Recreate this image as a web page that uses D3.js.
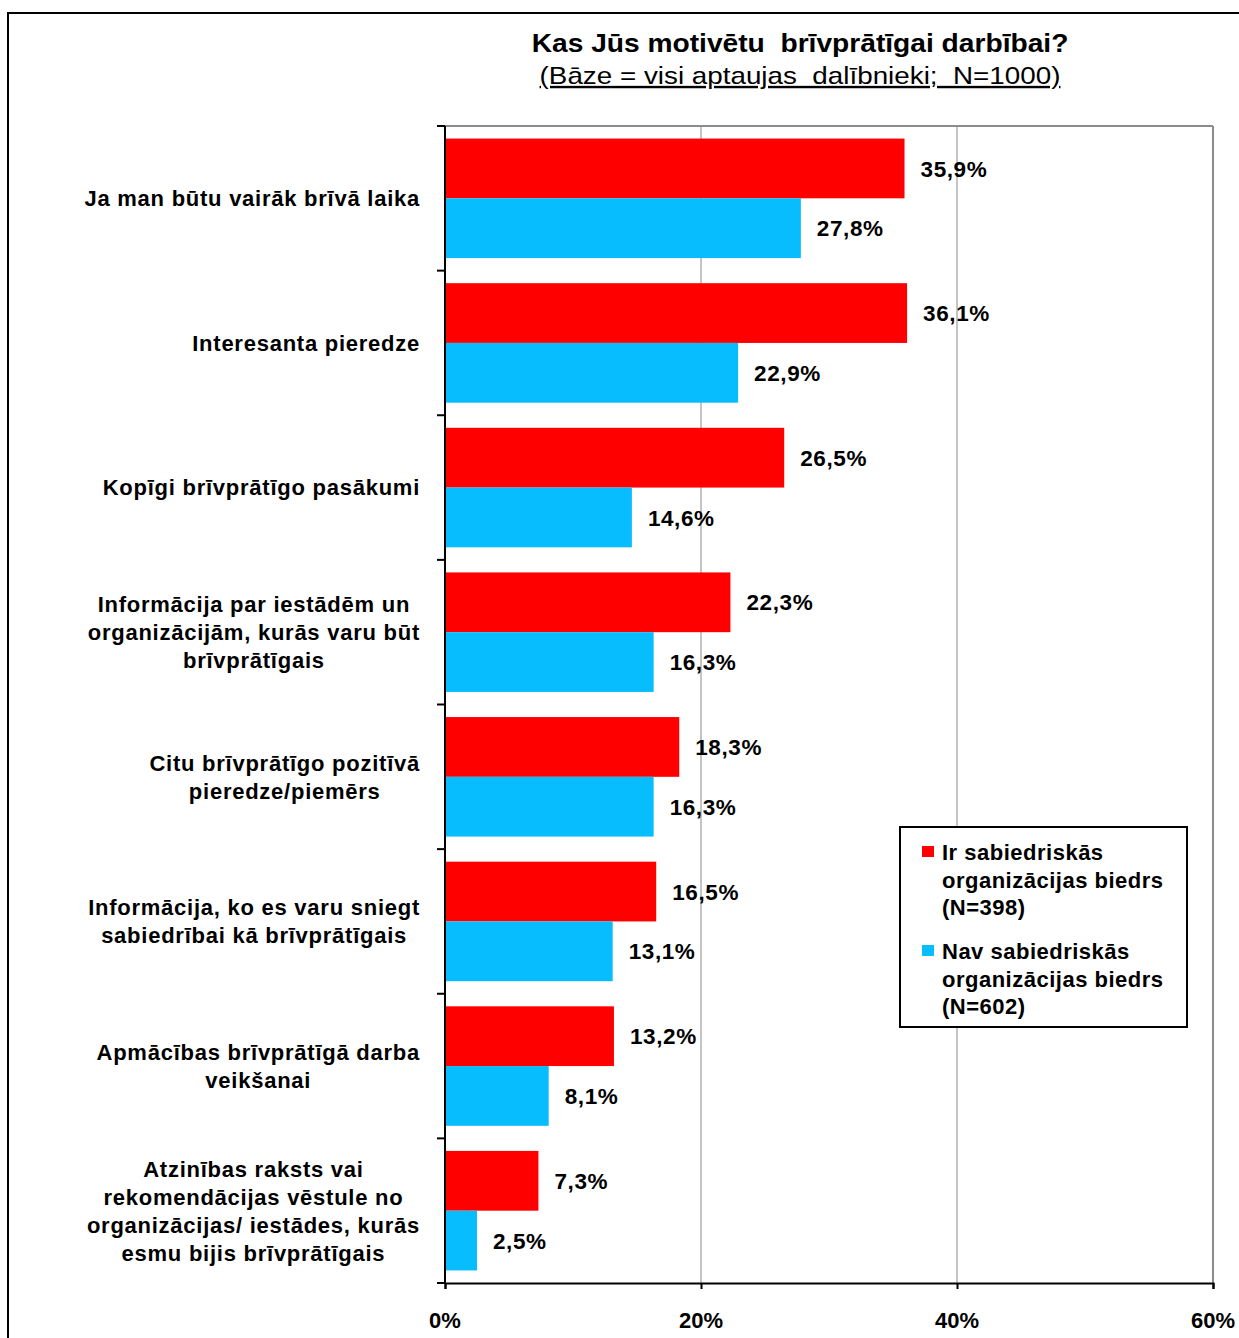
<!DOCTYPE html>
<html><head><meta charset="utf-8">
<script src="https://cdn.jsdelivr.net/npm/d3@7"></script>
<style>body{margin:0;background:#fff}svg{display:block}text{font-family:"Liberation Sans",Arial,sans-serif}</style>
</head><body>
<script>
const categories = [
  ["Ja man būtu vairāk brīvā laika"],
  ["Interesanta pieredze"],
  ["Kopīgi brīvprātīgo pasākumi"],
  ["Informācija par iestādēm un", "organizācijām, kurās varu būt", "brīvprātīgais"],
  ["Citu brīvprātīgo pozitīvā", "pieredze/piemērs"],
  ["Informācija, ko es varu sniegt", "sabiedrībai kā brīvprātīgais"],
  ["Apmācības brīvprātīgā darba", "veikšanai"],
  ["Atzinības raksts vai", "rekomendācijas vēstule no", "organizācijas/ iestādes, kurās", "esmu bijis brīvprātīgais"]
];
const seriesNames = [
  ["Ir sabiedriskās", "organizācijas biedrs", "(N=398)"],
  ["Nav sabiedriskās", "organizācijas biedrs", "(N=602)"]
];
const seriesColors = ["#FF0000", "#08BDFE"];
const memberValues = [35.9, 36.1, 26.5, 22.3, 18.3, 16.5, 13.2, 7.3];
const nonMemberValues = [27.8, 22.9, 14.6, 16.3, 16.3, 13.1, 8.1, 2.5];
const xTicks = [0, 20, 40, 60];
const title = "Kas Jūs motivētu  brīvprātīgai darbībai?";
const subtitle = "(Bāze = visi aptaujas  dalībnieki;  N=1000)";

const W = 1239, H = 1338;
const svg = d3.select("body").append("svg").attr("width", W).attr("height", H);

// outer frame
svg.append("rect").attr("x", 8).attr("y", 13).attr("width", W + 10).attr("height", H + 10)
  .attr("fill", "none").attr("stroke", "#000").attr("stroke-width", 2);

const L = 445, R = 1213, T = 126, B = 1283;
const x = d3.scaleLinear().domain([0, 60]).range([L, R]);
const idx = d3.range(categories.length);
const y = d3.scaleBand().domain(idx).range([T, B]).padding(0);
const sub = d3.scaleBand().domain([0, 1]).range([0, y.bandwidth()]).paddingInner(0).paddingOuter(0.21);

// gridlines
svg.append("g").selectAll("line").data(xTicks.filter(d => d > 0)).join("line")
  .attr("x1", d => x(d)).attr("x2", d => x(d)).attr("y1", T).attr("y2", B)
  .attr("stroke", d => d === 60 ? "#8c8c8c" : "#c4c4c4").attr("stroke-width", 2);
// top border of plot
svg.append("line").attr("x1", L).attr("x2", R).attr("y1", T).attr("y2", T)
  .attr("stroke", "#8c8c8c").attr("stroke-width", 2);

// bars
const series = [memberValues, nonMemberValues];
series.forEach((vals, s) => {
  svg.append("g").selectAll("rect").data(vals).join("rect")
    .attr("x", x(0)).attr("y", (d, i) => y(i) + sub(s))
    .attr("width", d => x(d) - x(0)).attr("height", sub.bandwidth())
    .attr("fill", seriesColors[s]);
  svg.append("g").selectAll("text").data(vals).join("text")
    .attr("x", d => x(d) + 16).attr("y", (d, i) => y(i) + sub(s) + sub.bandwidth() / 2)
    .attr("dy", "0.36em")
    .attr("font-size", 22.5).attr("font-weight", "bold").attr("letter-spacing", 0.6)
    .text(d => d.toFixed(1).replace(".", ",") + "%");
});

// axes
const yAxisG = svg.append("g");
yAxisG.append("line").attr("x1", L).attr("x2", L).attr("y1", T).attr("y2", B).attr("stroke", "#000").attr("stroke-width", 2);
const bounds = idx.map(i => y(i)).concat([B]);
yAxisG.selectAll("line.t").data(bounds).join("line").attr("class", "t")
  .attr("x1", L - 8).attr("x2", L).attr("y1", d => d).attr("y2", d => d).attr("stroke", "#000").attr("stroke-width", 2);

const xAxis = d3.axisBottom(x).tickValues(xTicks).tickSize(6).tickFormat("");
const xg = svg.append("g").attr("transform", `translate(0,${B})`).call(xAxis);
xg.select(".domain").attr("stroke", "#000").attr("stroke-width", 2);
xg.selectAll(".tick line").attr("stroke", "#000").attr("stroke-width", 2);
svg.append("g").selectAll("text").data(xTicks).join("text")
  .attr("x", d => x(d)).attr("y", 1328)
  .attr("text-anchor", "middle").attr("font-size", 22).attr("font-weight", "bold")
  .text(d => d + "%");

// category labels
const labG = svg.append("g");
categories.forEach((lines, i) => {
  const cy = y(i) + y.bandwidth() / 2;
  const lh = 28;
  const g = labG.append("g");
  const ts = lines.map((ln, k) => g.append("text")
    .attr("y", cy + (k - (lines.length - 1) / 2) * lh)
    .attr("dy", "0.36em")
    .attr("font-size", 22).attr("font-weight", "bold").attr("letter-spacing", 0.75)
    .attr("text-anchor", "middle").text(ln));
  const maxW = d3.max(ts, t => t.node().getComputedTextLength());
  ts.forEach(t => t.attr("x", 420 - maxW / 2));
});

// title (stretched horizontally to the reference width)
const tt = svg.append("text").attr("text-anchor", "middle").attr("xml:space", "preserve")
  .style("white-space", "pre")
  .attr("font-size", 26).attr("font-weight", "bold").text(title);
const tw = tt.node().getComputedTextLength();
tt.attr("transform", `translate(800,52) scale(${537 / tw},1)`);
const st = svg.append("text").attr("text-anchor", "middle").attr("xml:space", "preserve")
  .style("white-space", "pre")
  .attr("font-size", 24).attr("text-decoration", "underline").text(subtitle);
const sw = st.node().getComputedTextLength();
st.attr("transform", `translate(800,84) scale(${521 / sw},1)`);

// legend
const lg = svg.append("g");
lg.append("rect").attr("x", 900).attr("y", 827).attr("width", 287).attr("height", 200)
  .attr("fill", "#fff").attr("stroke", "#000").attr("stroke-width", 2);
seriesNames.forEach((lines, s) => {
  const by = 860 + s * 99;
  lg.append("rect").attr("x", 922).attr("y", by - 14).attr("width", 12).attr("height", 11).attr("fill", seriesColors[s]);
  lines.forEach((ln, k) => lg.append("text").attr("x", 942).attr("y", by + k * 27.5)
    .attr("font-size", 22).attr("font-weight", "bold").attr("letter-spacing", 0.5).text(ln));
});
</script>
</body></html>
